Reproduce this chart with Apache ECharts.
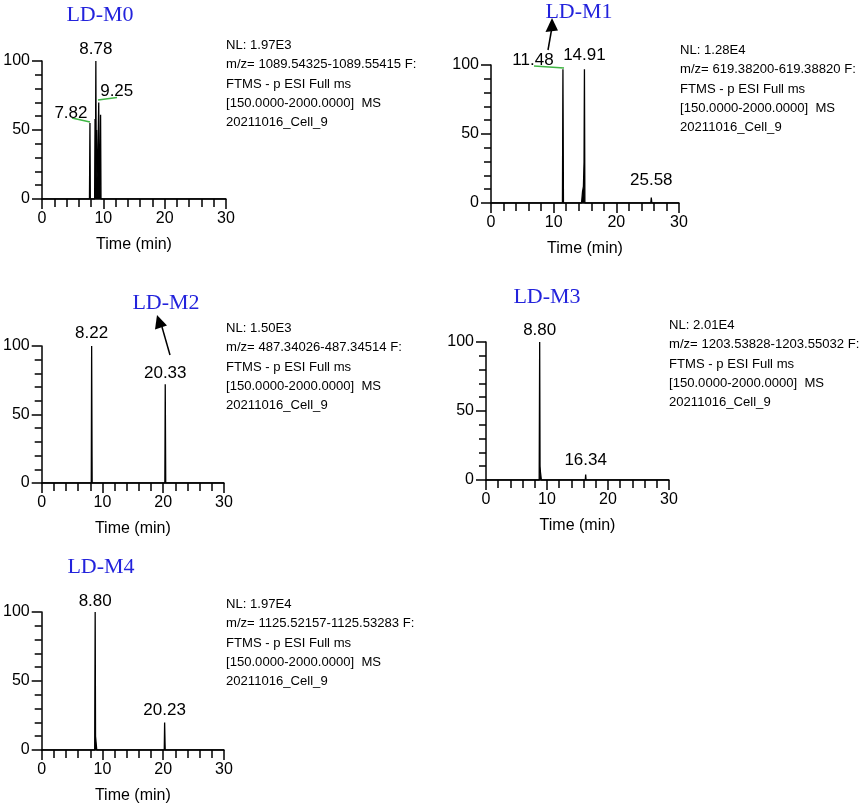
<!DOCTYPE html>
<html>
<head>
<meta charset="utf-8">
<script src="https://cdn.jsdelivr.net/npm/echarts@6/dist/echarts.min.js"></script>
<style>
html,body{margin:0;padding:0;background:#fff;}
#c{width:863px;height:805px;}
</style>
</head>
<body>
<div id="c"></div>
<script>
// ---------- DATA ----------
const panelTitles = ['LD-M0', 'LD-M1', 'LD-M2', 'LD-M3', 'LD-M4'];
const xTicks = [0, 10, 20, 30];
const yTicks = [0, 50, 100];
const xAxisName = 'Time (min)';

const timesM0 = [0, 7.74, 7.82, 7.88, 8.58, 8.65, 8.71, 8.78, 8.84, 8.90, 8.96, 9.03, 9.12, 9.20, 9.25, 9.31, 9.40, 9.48, 9.55, 9.62, 30];
const intenM0 = [0, 0, 55, 0, 0, 58, 20, 100, 25, 50, 15, 20, 30, 55, 70, 20, 10, 30, 61, 0, 0];
const peaksM0 = [[8.78, 100], [7.82, 55], [9.25, 70]];

const timesM1 = [0, 11.40, 11.48, 11.56, 14.45, 14.60, 14.75, 14.85, 14.91, 14.98, 25.50, 25.58, 25.66, 30];
const intenM1 = [0, 0, 97, 0, 0, 8, 12, 30, 97, 0, 0, 4, 0, 0];
const peaksM1 = [[11.48, 97], [14.91, 97], [25.58, 4]];

const timesM2 = [0, 8.16, 8.22, 8.30, 20.27, 20.33, 20.41, 30];
const intenM2 = [0, 0, 100, 0, 0, 72, 0, 0];
const peaksM2 = [[8.22, 100], [20.33, 72]];

const timesM3 = [0, 8.72, 8.80, 8.86, 8.92, 9.00, 9.08, 16.28, 16.34, 16.40, 30];
const intenM3 = [0, 0, 100, 10, 6, 6, 0, 0, 4, 0, 0];
const peaksM3 = [[8.80, 100], [16.34, 4]];

const timesM4 = [0, 8.72, 8.80, 8.86, 8.92, 9.00, 9.06, 20.17, 20.23, 20.32, 30];
const intenM4 = [0, 0, 100, 10, 9, 9, 0, 0, 20, 0, 0];
const peaksM4 = [[8.80, 100], [20.23, 20]];

const infoM0 = ['NL: 1.97E3', 'm/z= 1089.54325-1089.55415 F:', 'FTMS - p ESI Full ms', '[150.0000-2000.0000]  MS', '20211016_Cell_9'];
const infoM1 = ['NL: 1.28E4', 'm/z= 619.38200-619.38820 F:', 'FTMS - p ESI Full ms', '[150.0000-2000.0000]  MS', '20211016_Cell_9'];
const infoM2 = ['NL: 1.50E3', 'm/z= 487.34026-487.34514 F:', 'FTMS - p ESI Full ms', '[150.0000-2000.0000]  MS', '20211016_Cell_9'];
const infoM3 = ['NL: 2.01E4', 'm/z= 1203.53828-1203.55032 F:', 'FTMS - p ESI Full ms', '[150.0000-2000.0000]  MS', '20211016_Cell_9'];
const infoM4 = ['NL: 1.97E4', 'm/z= 1125.52157-1125.53283 F:', 'FTMS - p ESI Full ms', '[150.0000-2000.0000]  MS', '20211016_Cell_9'];

// ---------- LAYOUT / STYLE ----------
const panels = [
  {times: timesM0, inten: intenM0, peaks: peaksM0, info: infoM0,
   grid: {left: 42, top: 61, width: 184, height: 138},
   titlePos: [100, 15], infoPos: [226, 36],
   offsets: [[0, -12], [-19, -10], [18, -11]]},
  {times: timesM1, inten: intenM1, peaks: peaksM1, info: infoM1,
   grid: {left: 491, top: 65, width: 188, height: 138},
   titlePos: [579, 12], infoPos: [680, 41],
   offsets: [[-30, -9], [0, -14], [0, -17]]},
  {times: timesM2, inten: intenM2, peaks: peaksM2, info: infoM2,
   grid: {left: 36, top: 346, width: 188, height: 137},
   titlePos: [166, 303], infoPos: [226, 319],
   offsets: [[0, -13], [0, -11]]},
  {times: timesM3, inten: intenM3, peaks: peaksM3, info: infoM3,
   grid: {left: 486, top: 342, width: 183, height: 138},
   titlePos: [547, 297], infoPos: [669, 316],
   offsets: [[0, -12], [0, -14]]},
  {times: timesM4, inten: intenM4, peaks: peaksM4, info: infoM4,
   grid: {left: 41, top: 612, width: 183, height: 139},
   titlePos: [101, 567], infoPos: [226, 595],
   offsets: [[0, -11], [0, -12]]}
];

const FONT = 'Liberation Sans, Arial, sans-serif';
const grids = [], xAxes = [], yAxes = [], series = [], titles = [];

panels.forEach((p, i) => {
  grids.push(Object.assign({containLabel: false}, p.grid));
  xAxes.push({
    type: 'value', gridIndex: i, min: xTicks[0], max: xTicks[xTicks.length - 1], interval: xTicks[1] - xTicks[0],
    name: xAxisName, nameLocation: 'middle', nameGap: 38,
    nameTextStyle: {fontFamily: FONT, fontSize: 16, color: '#000'},
    axisLine: {show: true, onZero: false, lineStyle: {color: '#000', width: 1.5}},
    axisTick: {show: true, length: 10, lineStyle: {color: '#000', width: 1.5}},
    minorTick: {show: true, splitNumber: 5, length: 8, lineStyle: {color: '#000', width: 1.5}},
    axisLabel: {fontFamily: FONT, fontSize: 16, color: '#000', margin: 12},
    splitLine: {show: false}, minorSplitLine: {show: false}
  });
  yAxes.push({
    type: 'value', gridIndex: i, min: yTicks[0], max: yTicks[yTicks.length - 1], interval: yTicks[1] - yTicks[0],
    axisLine: {show: true, onZero: false, lineStyle: {color: '#000', width: 1.5}},
    axisTick: {show: true, length: 10, lineStyle: {color: '#000', width: 1.5}},
    minorTick: {show: true, splitNumber: 5, length: 7, lineStyle: {color: '#000', width: 1.5}},
    axisLabel: {fontFamily: FONT, fontSize: 16, color: '#000', margin: 12},
    splitLine: {show: false}, minorSplitLine: {show: false}
  });
  series.push({
    type: 'line', xAxisIndex: i, yAxisIndex: i,
    data: p.times.map((t, k) => [t, p.inten[k]]),
    symbol: 'none', smooth: false, silent: true, animation: false,
    lineStyle: {color: '#000', width: 1.3},
    areaStyle: {color: '#000', opacity: 1, origin: 'start'},
    markPoint: {
      symbol: 'circle', symbolSize: 0, silent: true, animation: false,
      data: p.peaks.map((pk, k) => ({
        coord: pk,
        label: {show: true, position: 'inside', offset: p.offsets[k],
          formatter: pk[0].toFixed(2), fontFamily: FONT, fontSize: 17, color: '#000'}
      }))
    }
  });
  titles.push({
    text: panelTitles[i], left: p.titlePos[0], top: p.titlePos[1], textAlign: 'center', textVerticalAlign: 'middle',
    padding: 0,
    textStyle: {fontFamily: 'Liberation Serif, Times New Roman, serif', fontSize: 22, fontWeight: 'normal', color: '#2323dc'}
  });
  titles.push({
    text: p.info.join('\n'), left: p.infoPos[0], top: p.infoPos[1], padding: 0,
    textStyle: {fontFamily: FONT, fontSize: 13.1, fontWeight: 'normal', color: '#000', lineHeight: 19.2}
  });
});

const GREEN = '#3fb543';
const graphics = [
  // M0 leader lines
  {type: 'line', shape: {x1: 72, y1: 118, x2: 90, y2: 122}, style: {stroke: GREEN, lineWidth: 1.6}},
  {type: 'line', shape: {x1: 98, y1: 100, x2: 117, y2: 97.5}, style: {stroke: GREEN, lineWidth: 1.6}},
  // M1 leader line
  {type: 'line', shape: {x1: 534, y1: 66, x2: 564, y2: 68}, style: {stroke: GREEN, lineWidth: 1.6}},
  // M1 arrow
  {type: 'line', shape: {x1: 548, y1: 50, x2: 551.5, y2: 30}, style: {stroke: '#000', lineWidth: 1.5}},
  {type: 'polygon', shape: {points: [[552, 18], [545.5, 32], [558, 30.5]]}, style: {fill: '#000'}},
  // M2 arrow
  {type: 'line', shape: {x1: 170, y1: 355, x2: 162, y2: 327}, style: {stroke: '#000', lineWidth: 1.5}},
  {type: 'polygon', shape: {points: [[157, 315], [155, 329.5], [167, 325.5]]}, style: {fill: '#000'}}
];

const chart = echarts.init(document.getElementById('c'), null, {renderer: 'canvas'});
chart.setOption({
  animation: false,
  backgroundColor: '#fff',
  title: titles,
  grid: grids,
  xAxis: xAxes,
  yAxis: yAxes,
  series: series,
  graphic: graphics
});
</script>
</body>
</html>
